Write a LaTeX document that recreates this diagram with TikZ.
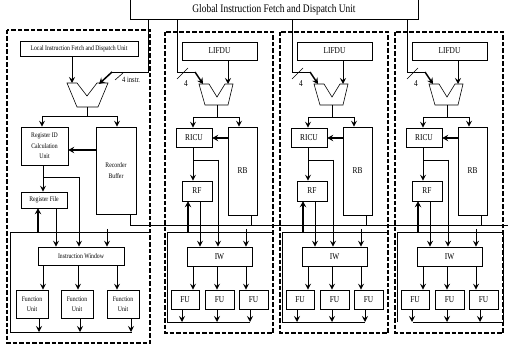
\documentclass[tikz,border=0pt]{standalone}
\usepackage{fontspec}
\setmainfont{Liberation Serif}[FakeStretch=0.82]
\usetikzlibrary{arrows.meta}
\begin{document}
\begin{tikzpicture}[x=1pt,y=-1pt,
  box/.style={draw,line width=0.6pt,inner sep=0pt,align=center},
  small/.style={font=\fontsize{7}{10.5}\selectfont},
  acr/.style={font=\fontsize{9}{11}\selectfont},
  ln/.style={line width=0.6pt},
  arr/.style={line width=1pt,-{Stealth[length=6pt,width=6pt,inset=2.2pt]}},
  tarr/.style={line width=1.5pt,-{Stealth[length=6pt,width=6.5pt,inset=2.2pt]}},
  core/.style={line width=1.2pt,dash pattern=on 4.5pt off 2pt},
  muxs/.style={line width=0.6pt}]
\useasboundingbox (0,0) rectangle (508,347);
\clip (0,0) rectangle (508,347);
% global unit
\node[box,minimum width=288,minimum height=24,anchor=north west] (gifdu) at (130,-5) {};
\node[font=\fontsize{11.5}{14}\selectfont] (gtext) at (274,10) {Global Instruction Fetch and Dispatch Unit};
% dashed core frames
\draw[core] (7,30) rectangle (150,343);
\foreach \o in {0,115,230}{\draw[core] (165+\o,32) rectangle (273+\o,333);}
% ---------------- core 1 (detailed) ----------------
\node[box,small,minimum width=118,minimum height=15] (lifdu1) at (79,48.5) {Local Instruction Fetch and Dispatch Unit};
\draw[muxs] (67,83) -- (77,83) -- (87,96) -- (97,83) -- (108,83) -- (98,107) -- (77,107) -- cycle;
\coordinate (mux1b) at (87,107);
\node[box,small,minimum width=47,minimum height=38] (ridcu) at (44.5,146) {Register ID\\Calculation\\Unit};
\node[box,small,minimum width=40,minimum height=87] (rob1) at (116,170.5) {Recorder\\Buffer};
\node[box,small,minimum width=46,minimum height=16] (rf1) at (44,200) {Register File};
\node[box,small,minimum width=86,minimum height=18] (iw1) at (81,256) {Instruction Window};
\node[box,small,minimum width=32,minimum height=28] (fu1a) at (32,304) {Function\\Unit};
\node[box,small,minimum width=32,minimum height=28] (fu1b) at (77,304) {Function\\Unit};
\node[box,small,minimum width=32,minimum height=28] (fu1c) at (123,304) {Function\\Unit};
\draw[arr] (lifdu1.south -| 72,0) -- (72,83);
\draw[ln] (mux1b) -- (87,116);
\draw[ln] (42,116) -- (117,116);
\draw[arr] (42,116) -- (ridcu.north -| 42,0);
\draw[arr] (117,116) -- (rob1.north -| 117,0);
\draw[tarr] (rob1.west |- 0,150) -- (ridcu.east |- 0,150);
\draw[arr] (ridcu.south -| 43,0) -- (rf1.north -| 43,0);
\draw[ln] (43,177) -- (79,177);
\draw[arr] (79,177) -- (iw1.north -| 79,0);
\draw[tarr] (38,232) -- (rf1.south -| 38,0);
\draw[arr] (rf1.south -| 56,0) -- (iw1.north -| 56,0);
\draw[arr] (107,229) -- (iw1.north -| 107,0);
\draw[arr] (iw1.south -| 43,0) -- (fu1a.north -| 43,0);
\draw[arr] (iw1.south -| 78,0) -- (fu1b.north -| 78,0);
\draw[arr] (iw1.south -| 117,0) -- (fu1c.north -| 117,0);
\draw[arr] (fu1a.south -| 39,0) -- (39,332);
\draw[arr] (fu1b.south -| 80,0) -- (80,332);
\draw[arr] (fu1c.south -| 131,0) -- (131,332);
\draw[ln] (149,232) -- (10,232) -- (10,332) -- (132,332);
\draw[ln] (rob1.south -| 130,0) -- (130,225) -- (508,225);
% global to core 1
\draw[ln] (gifdu.south -| 148,0) -- (148,72) -- (112,72);
\draw[tarr] (112,72) -- (99,84);
\draw[ln] (115,80) -- (123,73);
\node[font=\fontsize{8}{10}\selectfont,anchor=west,inner sep=0pt] (lbl1) at (122,80) {4 instr.};
% ---------------- cores 2-4 ----------------
\foreach \k/\o in {2/0,3/115,4/230}{
  \node[box,acr,minimum width=75,minimum height=18] (lifdu\k) at (219.5+\o,51) {LIFDU};
  \draw[muxs] (199+\o,84) -- (209+\o,84) -- (217+\o,97) -- (225+\o,84) -- (233+\o,84) -- (228+\o,105) -- (205+\o,105) -- cycle;
  \node[box,acr,minimum width=36,minimum height=19] (ricu\k) at (194+\o,137.5) {RICU};
  \node[box,acr,minimum width=29,minimum height=88] (rb\k) at (242.5+\o,171) {RB};
  \node[box,acr,minimum width=30,minimum height=20] (rf\k) at (197+\o,191) {RF};
  \node[box,acr,minimum width=65,minimum height=19] (iw\k) at (219.5+\o,256.5) {IW};
  \node[box,acr,minimum width=28,minimum height=19] (fua\k) at (185+\o,299.5) {FU};
  \node[box,acr,minimum width=29,minimum height=19] (fub\k) at (219.5+\o,299.5) {FU};
  \node[box,acr,minimum width=29,minimum height=19] (fuc\k) at (253.5+\o,299.5) {FU};
  \draw[arr] (lifdu\k.south -| 228+\o,0) -- (228+\o,84);
  \draw[ln] (217+\o,105) -- (217+\o,117);
  \draw[ln] (193+\o,117) -- (239+\o,117);
  \draw[arr] (193+\o,117) -- (ricu\k.north -| 193+\o,0);
  \draw[arr] (239+\o,117) -- (rb\k.north -| 239+\o,0);
  \draw[tarr] (rb\k.west |- 0,138) -- (ricu\k.east |- 0,138);
  \draw[arr] (ricu\k.south -| 193+\o,0) -- (rf\k.north -| 193+\o,0);
  \draw[ln] (193+\o,160) -- (218+\o,160);
  \draw[arr] (218+\o,160) -- (iw\k.north -| 218+\o,0);
  \draw[tarr] (188+\o,232) -- (rf\k.south -| 188+\o,0);
  \draw[arr] (rf\k.south -| 200+\o,0) -- (iw\k.north -| 200+\o,0);
  \draw[arr] (246+\o,229) -- (iw\k.north -| 246+\o,0);
  \draw[arr] (iw\k.south -| 193+\o,0) -- (fua\k.north -| 193+\o,0);
  \draw[arr] (iw\k.south -| 217+\o,0) -- (fub\k.north -| 217+\o,0);
  \draw[arr] (iw\k.south -| 246+\o,0) -- (fuc\k.north -| 246+\o,0);
  \draw[arr] (fua\k.south -| 182+\o,0) -- (182+\o,322);
  \draw[arr] (fub\k.south -| 217+\o,0) -- (217+\o,322);
  \draw[arr] (fuc\k.south -| 250+\o,0) -- (250+\o,322);
  \draw[ln] (rb\k.south -| 251+\o,0) -- (251+\o,225);
  \draw[ln] (gifdu.south -| 177+\o,0) -- (177+\o,72) -- (195+\o,72);
  \draw[tarr] (195+\o,72) -- (203+\o,84);
  \draw[ln] (177+\o,79) -- (188+\o,68);
  \node[font=\fontsize{9}{10}\selectfont] (lbl\k) at (186+\o,84) {4};
}
\draw[ln] (273,232) -- (167,232) -- (167,322) -- (250,322);
\draw[ln] (388,232) -- (282,232) -- (282,322) -- (365,322);
\draw[ln] (397,322) -- (397,232) -- (503,232) -- (503,322) -- (413,322);
\end{tikzpicture}
\end{document}
